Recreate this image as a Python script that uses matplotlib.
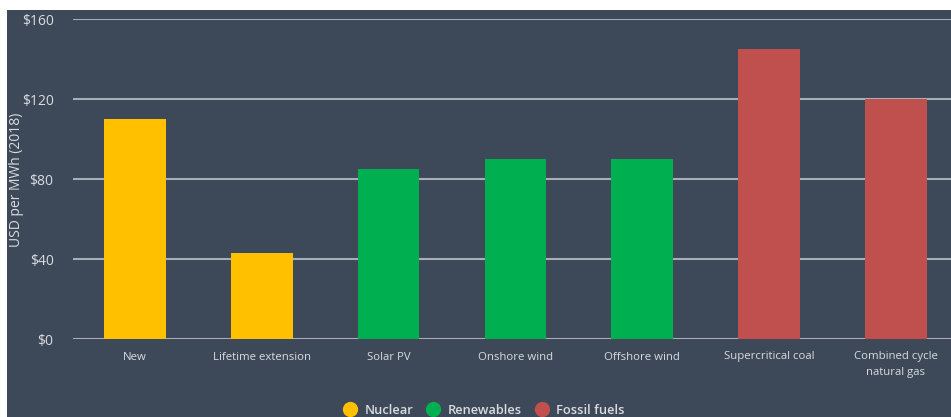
from matplotlib import pyplot as plt
from matplotlib.lines import Line2D
from matplotlib.patches import Rectangle
import numpy as np

#%% data
categories = ["New", "Lifetime extension", "Solar PV", "Onshore wind",
              "Offshore wind", "Supercritical coal", "Combined cycle\nnatural gas"]
values = [110, 43, 85, 90, 90, 145, 120]
groups = ["Nuclear", "Nuclear", "Renewables", "Renewables",
          "Renewables", "Fossil fuels", "Fossil fuels"]
group_names = ["Nuclear", "Renewables", "Fossil fuels"]
group_colors = {"Nuclear": "#FFC000", "Renewables": "#00B050", "Fossil fuels": "#C0504D"}
yticks = [0, 40, 80, 120, 160]

bg = "#3D4858"
txt = "#D9DCE0"
grid = "#A9AEB5"

plt.rcParams['font.family'] = ['Open Sans', 'DejaVu Sans']

fig = plt.figure(figsize=(9.51, 4.17), dpi=100)
fig.patch.set_facecolor("white")
# dark panel (white margin on top and left in the reference)
fig.patches.append(Rectangle((7 / 951, 0), 1, 1 - 10 / 417, transform=fig.transFigure,
                             facecolor=bg, edgecolor="none", zorder=-10))

ax = fig.add_axes([73 / 951, 1 - 339 / 417, 1 - 73 / 951, (339 - 19) / 417])
ax.set_facecolor("none")

x = np.arange(len(categories))
ax.bar(x, values, width=0.485, color=[group_colors[g] for g in groups], zorder=3)

ax.set_ylim(0, 160)
ax.set_xlim(-0.489, 6.435)
ax.set_yticks(yticks)
ax.set_yticklabels(["$%d" % t for t in yticks], color=txt, fontsize=10)
ax.set_xticks(x)
ax.set_xticklabels(categories, color=txt, fontsize=8.2, linespacing=1.5)
ax.tick_params(axis="y", length=0, pad=14)
ax.tick_params(axis="x", length=0, pad=9)
ax.yaxis.grid(True, color=grid, linewidth=1.5, zorder=1)
ax.set_axisbelow(True)
for s in ax.spines.values():
    s.set_visible(False)

fig.text(17 / 951, 1 - 180 / 417, "USD per MWh (2018)", rotation=90, color=txt,
         fontsize=10, ha="center", va="center")

handles = [Line2D([], [], marker="o", linestyle="none", markersize=11,
                  markerfacecolor=group_colors[g], markeredgecolor="none") for g in group_names]
fig.legend(handles, group_names, loc="center", bbox_to_anchor=(483 / 951, 1 - 410 / 417),
           ncol=3, frameon=False, prop={"size": 9.3, "weight": "semibold"},
           labelcolor=txt, handletextpad=0.45, columnspacing=0.8, handlelength=1.4)

fig.savefig("out.png", dpi=100, facecolor=fig.get_facecolor())
